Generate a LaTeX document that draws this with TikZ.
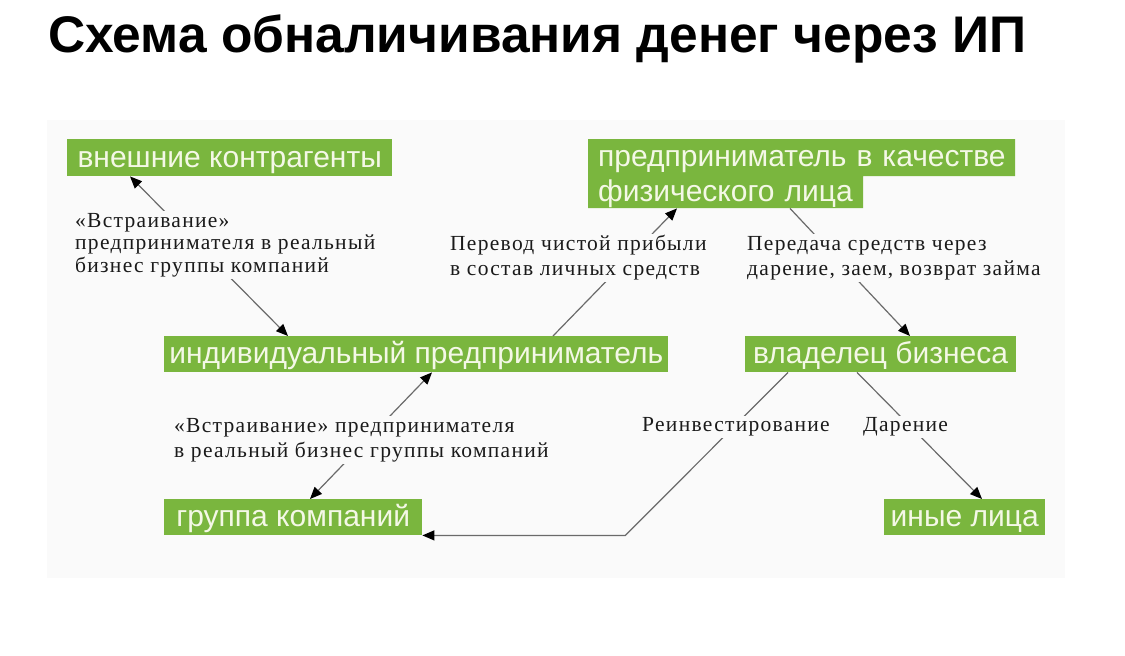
\documentclass[tikz,border=0pt]{standalone}
\usepackage{fontspec}
\setmainfont{Liberation Serif}
\newfontfamily\sansbox{Liberation Sans}
\newfontfamily\lblfont{Liberation Serif}[LetterSpace=6]
\usetikzlibrary{arrows.meta,calc,backgrounds}
\definecolor{gfill}{HTML}{7AB63E}
\definecolor{gtext}{HTML}{F4F8E6}
\definecolor{bgc}{HTML}{FAFAFA}
\definecolor{lcol}{HTML}{6A6A6A}
\definecolor{ink}{HTML}{1A1A1A}
\tikzset{
  gbox/.style={fill=gfill, text=gtext, font=\sansbox\fontsize{30}{35}\selectfont,
    inner sep=0pt, anchor=north west, text height=27pt, text depth=9pt},
  fizbox/.style={text=gtext, font=\sansbox\fontsize{30}{35}\selectfont,
    align=left, anchor=north west, text width=430pt, inner xsep=10pt,
    inner ysep=0pt, minimum height=69pt},
  lbl/.style={fill=bgc, text=ink, font=\lblfont\fontsize{21.5}{25}\selectfont,
    align=left, anchor=west, inner xsep=3pt, inner ysep=2pt},
  conn/.style={draw=lcol, line width=1.2pt},
  >={Triangle[length=12pt,width=10pt,color=black]}
}
\begin{document}
\begin{tikzpicture}[x=1pt,y=-1pt]
\useasboundingbox (0,0) rectangle (1125,656);
\begin{scope}[on background layer]
  \fill[white] (0,0) rectangle (1125,656);
  \fill[bgc] (47,120) rectangle (1065,578);
\end{scope}
% title
\node[anchor=base west, inner sep=0pt,
  font=\sansbox\bfseries\fontsize{51.5}{60}\selectfont] (title) at (48,52)
  {Схема обналичивания денег через ИП};
% boxes
\node[gbox, minimum width=325pt, text height=28pt] (ext) at (67,139) {внешние контрагенты};
\node[fizbox] (fiz) at (588,139)
  {\rule{0pt}{27pt}предприниматель в качестве\\физического лица\rule[-7pt]{0pt}{0pt}};
\node[gbox, minimum width=504pt] (ip) at (164,336) {индивидуальный предприниматель};
\node[gbox, minimum width=271pt] (vlad) at (745,336) {владелец бизнеса};
\node[gbox, minimum width=258pt] (grp) at (164,499) {группа компаний};
\node[gbox, minimum width=161pt] (oth) at (884,499) {иные лица};
\begin{scope}[on background layer]
  \fill[gfill] (fiz.north west) -- ++(427,0) -- ++(0,37) -- ++(-152,0)
    -- ++(0,32) -- ++(-275,0) -- cycle;
\end{scope}
% connectors
\draw[conn,<->] ($(ext.south west)+(63,0)$) -- ($(ip.north west)+(124,0)$);
\draw[conn,->] ($(ip.north west)+(389,0)$) -- ($(fiz.south west)+(89,0)$);
\draw[conn,->] ($(fiz.south west)+(202,0)$) -- ($(vlad.north west)+(165,0)$);
\draw[conn,->] ($(vlad.south west)+(43,0)$) -- ($(grp.south east)+(203,0)$) -- (grp.south east);
\draw[conn,->] ($(vlad.south west)+(112,0)$) -- ($(oth.north west)+(98,0)$);
\draw[conn,<->] ($(grp.north west)+(146,0)$) -- ($(ip.south west)+(268,0)$);
% labels
\node[lbl, font=\lblfont\fontsize{21.5}{22.5}\selectfont] (l1) at (72,245)
  {«Встраивание»\\предпринимателя в реальный\\бизнес группы компаний};
\node[lbl] (l2) at (447,258) {Перевод чистой прибыли\\в состав личных средств};
\node[lbl] (l3) at (744,258) {Передача средств через\\дарение, заем, возврат займа};
\node[lbl] (l4) at (639,427) {Реинвестирование};
\node[lbl] (l5) at (860,427) {Дарение};
\node[lbl] (l6) at (171,440) {«Встраивание» предпринимателя\\в реальный бизнес группы компаний};
\end{tikzpicture}
\end{document}
